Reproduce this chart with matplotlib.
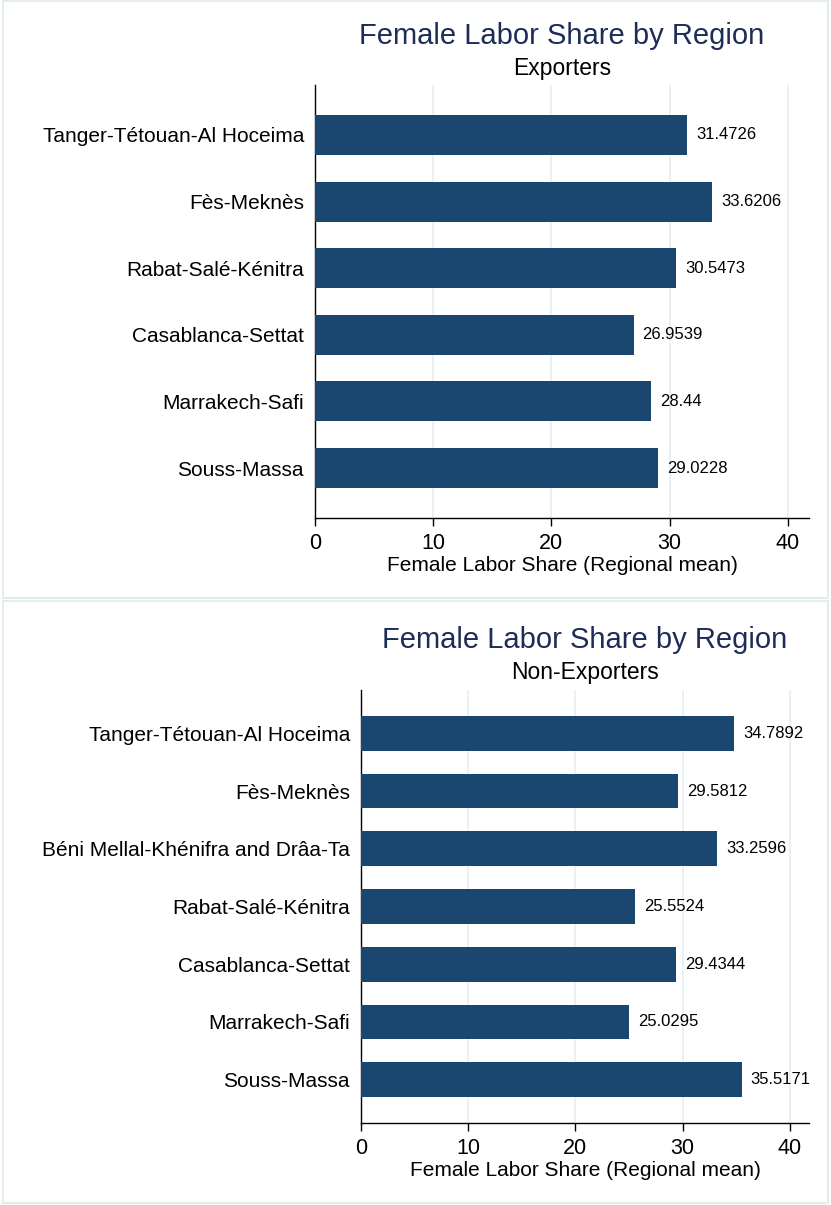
import matplotlib.pyplot as plt
from matplotlib.patches import Rectangle

plt.rcParams['font.family'] = ['Liberation Sans', 'DejaVu Sans']

# data
exp_regions = ["Tanger-Tétouan-Al Hoceima", "Fès-Meknès", "Rabat-Salé-Kénitra",
               "Casablanca-Settat", "Marrakech-Safi", "Souss-Massa"]
exp_values = [31.4726, 33.6206, 30.5473, 26.9539, 28.44, 29.0228]
exp_labels = ["31.4726", "33.6206", "30.5473", "26.9539", "28.44", "29.0228"]

non_regions = ["Tanger-Tétouan-Al Hoceima", "Fès-Meknès", "Béni Mellal-Khénifra and Drâa-Ta",
               "Rabat-Salé-Kénitra", "Casablanca-Settat", "Marrakech-Safi", "Souss-Massa"]
non_values = [34.7892, 29.5812, 33.2596, 25.5524, 29.4344, 25.0295, 35.5171]
non_labels = ["34.7892", "29.5812", "33.2596", "25.5524", "29.4344", "25.0295", "35.5171"]

xticks = [0, 10, 20, 30, 40]

W, H = 831, 1205
BAR = '#1a476f'
TITLE = '#1e2d57'
GRID = '#e6eff2'
BORDER = '#e4ecee'

fig = plt.figure(figsize=(W / 100, H / 100), dpi=100)


def px_axes(x0, y0, x1, y1):
    return fig.add_axes([x0 / W, 1 - y1 / H, (x1 - x0) / W, (y1 - y0) / H])


def panel(box, ax_px, regions, values, labels, subtitle, title_y):
    # light frame around the panel
    bx0, by0, bx1, by1 = box
    fig.patches.append(Rectangle((bx0 / W, 1 - by1 / H), (bx1 - bx0) / W, (by1 - by0) / H,
                                 transform=fig.transFigure, fill=False,
                                 edgecolor=BORDER, linewidth=1.5))
    ax = px_axes(*ax_px)
    n = len(regions)
    ypos = list(range(n))
    ax.barh(ypos, values, height=0.6, color=BAR, zorder=3)
    for y, v, lab in zip(ypos, values, labels):
        ax.annotate(lab, (v, y), xytext=(6.5, 0), textcoords='offset points',
                    va='center', ha='left', fontsize=12, color='black')
    ax.set_ylim(n - 1 + 0.75, -0.75)
    ax.set_xlim(0, 41.8)
    ax.set_yticks(ypos)
    ax.set_yticklabels(regions, fontsize=15)
    ax.tick_params(axis='y', length=0, pad=8)
    ax.set_xticks(xticks)
    ax.set_xticklabels([str(t) for t in xticks], fontsize=15.5)
    ax.tick_params(axis='x', length=6, width=1, pad=5)
    ax.grid(axis='x', color=GRID, linewidth=1.2, zorder=0)
    for s in ['top', 'right']:
        ax.spines[s].set_visible(False)
    ax.spines['left'].set_linewidth(1)
    ax.spines['bottom'].set_linewidth(1)
    ax.set_xlabel("Female Labor Share (Regional mean)", fontsize=15, labelpad=1)
    cx = (ax_px[0] + ax_px[2]) / 2 / W
    fig.text(cx, 1 - title_y / H, "Female Labor Share by Region", ha='center', va='center',
             fontsize=21, color=TITLE)
    fig.text(cx, 1 - (title_y + 33) / H, subtitle, ha='center', va='center',
             fontsize=16.5, color='black')
    return ax


panel((3, 1, 828, 598), (315, 85, 809, 518), exp_regions, exp_values, exp_labels,
      "Exporters", 36)
panel((3, 601, 828, 1203), (361, 690, 809, 1123), non_regions, non_values, non_labels,
      "Non-Exporters", 640)

fig.savefig("out.png", dpi=100)
